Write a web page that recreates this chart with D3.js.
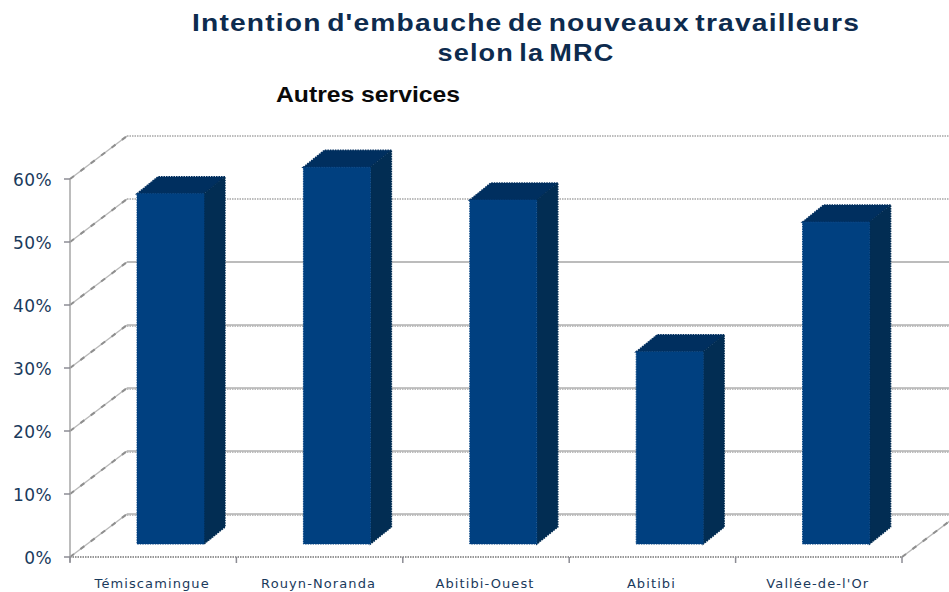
<!DOCTYPE html>
<html>
<head>
<meta charset="utf-8">
<script src="https://d3js.org/d3.v7.min.js"></script>
<style>
  html, body { margin: 0; padding: 0; background: #fff; overflow: hidden; }
  text { font-family: "Liberation Sans", Arial, sans-serif; }
</style>
</head>
<body>
<div class="container"></div>
<script>
// values
const categories = ["Témiscamingue", "Rouyn-Noranda", "Abitibi-Ouest", "Abitibi", "Vallée-de-l'Or"]
const values = [55.6, 59.8, 54.6, 30.5, 51.1]
const yTicks = [0, 10, 20, 30, 40, 50, 60]
const lightDotted = [50, 60]
const heavyDotted = [0, 10, 20, 30]
const titleLines = ["Intention d'embauche de nouveaux travailleurs", "selon la MRC"]
const titleWidths = [668, 177]
const subtitle = "Autres services"

const width = 949
const height = 592

// front plane of the 3d box
const x0 = 70
const y0 = 557
const depthX = 57
const depthY = 43

const x = d3.scaleBand().domain(categories).range([x0, x0 + 166.4 * categories.length])
const y = d3.scaleLinear().domain([0, 60]).range([y0, 179])

const svg = d3.select(".container")
    .append("svg")
    .attr("width", width)
    .attr("height", height)
    .style("display", "block")

const grey = "#a6a6a6"
const dark = "#8c8c94"
const navy = "#1a3a5c"

function slanted(xa, ya) {
    svg.append("line")
        .attr("x1", xa).attr("x2", xa + depthX)
        .attr("y1", ya).attr("y2", ya - depthY)
        .style("stroke", "#b8b8b8")
        .style("stroke-width", 1.4)
    svg.append("line")
        .attr("x1", xa).attr("x2", xa + depthX)
        .attr("y1", ya).attr("y2", ya - depthY)
        .style("stroke", "#8f8f8f")
        .style("stroke-width", 2)
        .style("stroke-dasharray", "5 8")
}

// walls: back gridlines and the slanted lines on the side wall
yTicks.forEach(t => {
    const yb = y(t) - depthY
    const heavy = heavyDotted.includes(t)
    svg.append("line")
        .attr("x1", x0 + depthX).attr("x2", width + 5)
        .attr("y1", yb).attr("y2", yb)
        .style("stroke", heavy ? "#b0b0b0" : grey)
        .style("stroke-width", 1.5)
        .style("stroke-dasharray", lightDotted.includes(t) ? "1.5 1" : null)
    if (heavy) {
        svg.append("line")
            .attr("x1", x0 + depthX).attr("x2", width + 5)
            .attr("y1", yb + 1.2).attr("y2", yb + 1.2)
            .style("stroke", "#a0a0a0")
            .style("stroke-width", 1)
            .style("stroke-dasharray", "1.5 1")
    }
    slanted(x0, y(t))
})

// right side of the floor
const rightX = x.range()[1]
slanted(rightX, y0)

// axes
svg.append("line")
    .attr("x1", x0).attr("x2", x0)
    .attr("y1", y(60)).attr("y2", y0 + 5)
    .style("stroke", grey).style("stroke-width", 1.5)
svg.append("line")
    .attr("x1", x0).attr("x2", rightX)
    .attr("y1", y0).attr("y2", y0)
    .style("stroke", "#979797").style("stroke-width", 2)
    .style("stroke-dasharray", "1.5 1")

svg.selectAll(".ytick")
    .data(yTicks)
    .enter().append("line")
    .attr("class", "ytick")
    .attr("x1", x0 - 6).attr("x2", x0)
    .attr("y1", d => y(d)).attr("y2", d => y(d))
    .style("stroke", dark).style("stroke-width", 1.5)

svg.selectAll(".xtick")
    .data(categories.concat(["end"]))
    .enter().append("line")
    .attr("class", "xtick")
    .attr("x1", (d, i) => x0 + x.step() * i).attr("x2", (d, i) => x0 + x.step() * i)
    .attr("y1", y0).attr("y2", y0 + 6)
    .style("stroke", dark).style("stroke-width", 1.5)

svg.selectAll(".ylabel")
    .data(yTicks)
    .enter().append("text")
    .attr("class", "ylabel")
    .attr("x", 52)
    .attr("y", d => y(d) + 1)
    .attr("dy", ".35em")
    .style("text-anchor", "end")
    .style("font-family", "'DejaVu Sans', sans-serif")
    .style("font-size", "17px")
    .style("letter-spacing", "0.4px")
    .style("fill", navy)
    .text(d => d + "%")

svg.selectAll(".xlabel")
    .data(categories)
    .enter().append("text")
    .attr("class", "xlabel")
    .attr("x", d => x(d) + x.step() / 2 - 1)
    .attr("y", 588)
    .style("text-anchor", "middle")
    .style("font-family", "'DejaVu Sans', sans-serif")
    .style("font-size", "13px")
    .style("letter-spacing", "1.1px")
    .style("fill", navy)
    .text(d => d)

// bars sit part way into the box
const barW = 67
const barOff = 67
const barBase = 13
const sideX = 21
const sideY = 17

const bar = svg.selectAll(".bar")
    .data(categories.map((c, i) => ({ c: c, v: values[i] })))
    .enter().append("g")
    .attr("class", "bar")

const left = d => x(d.c) + barOff
const top_ = d => y(d.v) - barBase
const bottom = y0 - barBase

bar.append("path")
    .attr("d", d => "M" + left(d) + "," + top_(d)
        + "L" + (left(d) + sideX) + "," + (top_(d) - sideY)
        + "L" + (left(d) + barW + sideX) + "," + (top_(d) - sideY)
        + "L" + (left(d) + barW) + "," + top_(d) + "Z")
    .style("fill", "#002f5f")
    .style("stroke", "#002f5f").style("stroke-width", 1.5).style("stroke-dasharray", "1.5 1")

bar.append("path")
    .attr("d", d => "M" + (left(d) + barW) + "," + top_(d)
        + "L" + (left(d) + barW + sideX) + "," + (top_(d) - sideY)
        + "L" + (left(d) + barW + sideX) + "," + (bottom - sideY)
        + "L" + (left(d) + barW) + "," + bottom + "Z")
    .style("fill", "#022d53")
    .style("stroke", "#022d53").style("stroke-width", 1.5).style("stroke-dasharray", "1.5 1")

bar.append("rect")
    .attr("x", left)
    .attr("y", top_)
    .attr("width", barW)
    .attr("height", d => bottom - top_(d))
    .style("fill", "#004080")
    .style("stroke", "#004080").style("stroke-width", 1).style("stroke-dasharray", "1.5 1")

// titles, stretched to the width they have in the picture
svg.selectAll(".title")
    .data(titleLines)
    .enter().append("text")
    .attr("class", "title")
    .attr("x", 526)
    .attr("y", (d, i) => 31 + i * 30)
    .attr("textLength", (d, i) => titleWidths[i])
    .attr("lengthAdjust", "spacingAndGlyphs")
    .style("text-anchor", "middle")
    .style("font-size", "24px")
    .style("font-weight", "bold")
    .style("letter-spacing", "1px")
    .style("word-spacing", "-3px")
    .style("fill", "#0d2b4e")
    .text(d => d)

svg.append("text")
    .attr("x", 368)
    .attr("y", 102)
    .attr("textLength", 184)
    .attr("lengthAdjust", "spacingAndGlyphs")
    .style("text-anchor", "middle")
    .style("font-size", "22px")
    .style("font-weight", "bold")
    .style("fill", "#0a0a0a")
    .text(subtitle)
</script>
</body>
</html>
